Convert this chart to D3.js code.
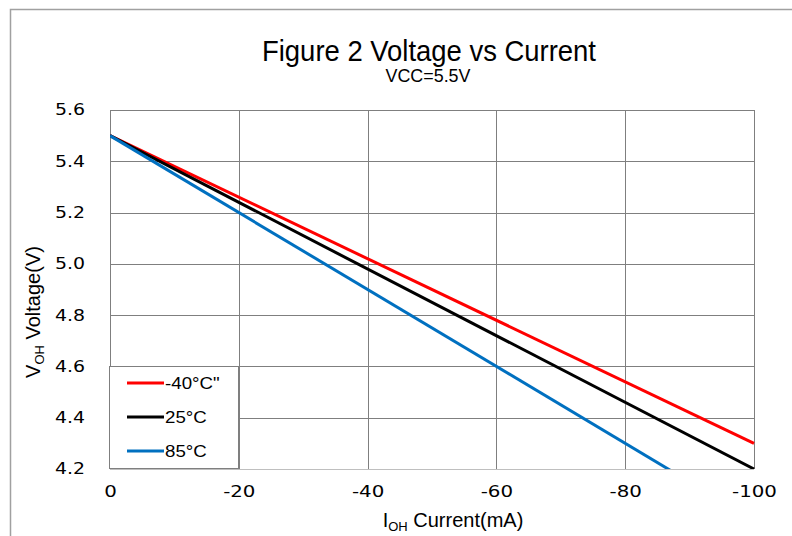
<!DOCTYPE html>
<html>
<head>
<meta charset="utf-8">
<script src="https://cdn.jsdelivr.net/npm/d3@7"></script>
<style>
  body { margin: 0; background: #fff; }
  svg { display: block; }
</style>
</head>
<body>
<svg width="792" height="536"></svg>
<script>
const width = 792, height = 536;

// chart data
const current = [0, -100];
const vMinus40 = [5.5, 4.3];
const v25 = [5.5, 4.2];
const v85 = [5.5, 4.0];
const seriesNames = ["-40°C\"", "25°C", "85°C"];
const seriesColors = ["#ff0000", "#000000", "#0070c0"];
const xTicks = [0, -20, -40, -60, -80, -100];
const yTicks = [4.2, 4.4, 4.6, 4.8, 5.0, 5.2, 5.4, 5.6];

const plot = { left: 110, right: 754, top: 110, bottom: 469 };

const svg = d3.select("svg");

// widen text a bit, the source picture is stretched horizontally
function stretch(sel, k) {
  sel.each(function() {
    const w = this.getComputedTextLength();
    d3.select(this)
      .attr("textLength", w * k)
      .attr("lengthAdjust", "spacingAndGlyphs");
  });
}

// outer frame (only top and left edges show)
svg.append("path")
  .attr("d", `M10.5,${height} V9.5 H${width}`)
  .attr("fill", "none")
  .attr("stroke", "#a0a0a0")
  .attr("stroke-width", 1.5);

const x = d3.scaleLinear().domain([0, -100]).range([plot.left, plot.right]);
const y = d3.scaleLinear().domain([4.2, 5.6]).range([plot.bottom, plot.top]);

// grid
svg.append("g")
  .selectAll("line")
  .data(yTicks)
  .enter().append("line")
  .attr("x1", plot.left).attr("x2", plot.right)
  .attr("y1", d => Math.round(y(d)) + 0.5).attr("y2", d => Math.round(y(d)) + 0.5)
  .attr("stroke", d => d === 4.2 ? "#bfbfbf" : "#7f7f7f");

svg.append("g")
  .selectAll("line")
  .data(xTicks)
  .enter().append("line")
  .attr("x1", d => Math.round(x(d)) + 0.5).attr("x2", d => Math.round(x(d)) + 0.5)
  .attr("y1", plot.top).attr("y2", plot.bottom)
  .attr("stroke", "#7f7f7f");

// axes
const yAxis = svg.append("g")
  .attr("transform", `translate(${plot.left},0)`)
  .call(d3.axisLeft(y).tickValues(yTicks).tickFormat(d3.format(".1f")).tickSize(0).tickPadding(25));
yAxis.select(".domain").remove();
yAxis.selectAll("text")
  .attr("font-family", "'DejaVu Sans', Verdana, sans-serif")
  .attr("font-size", 15.5)
  .attr("fill", "#000")
  .call(stretch, 1.22);

const xAxis = svg.append("g")
  .attr("transform", `translate(0,${plot.bottom})`)
  .call(d3.axisBottom(x).tickValues(xTicks).tickFormat(d => String(d)).tickSize(0).tickPadding(16));
xAxis.select(".domain").remove();
xAxis.selectAll("text")
  .attr("font-family", "'DejaVu Sans', Verdana, sans-serif")
  .attr("font-size", 16.5)
  .attr("fill", "#000")
  .call(stretch, 1.2);

// lines
svg.append("clipPath").attr("id", "clip")
  .append("rect")
  .attr("x", plot.left).attr("y", plot.top)
  .attr("width", plot.right - plot.left + 2)
  .attr("height", plot.bottom - plot.top);

const line = d3.line()
  .x(d => x(d[0]))
  .y(d => y(d[1]));

const series = [vMinus40, v25, v85];
svg.append("g")
  .attr("clip-path", "url(#clip)")
  .selectAll("path")
  .data(series.map(s => current.map((c, i) => [c, s[i]])))
  .enter().append("path")
  .attr("d", line)
  .attr("fill", "none")
  .attr("stroke", (d, i) => seriesColors[i])
  .attr("stroke-width", 3);

// legend
const lg = svg.append("g");
lg.append("rect")
  .attr("x", 109.5).attr("y", 366.5)
  .attr("width", 129).attr("height", 102)
  .attr("fill", "#fff")
  .attr("stroke", "#7f7f7f");

const legendRows = lg.selectAll("g.row")
  .data(seriesNames)
  .enter().append("g")
  .attr("class", "row")
  .attr("transform", (d, i) => `translate(0,${383 + i * 34})`);

legendRows.append("line")
  .attr("x1", 127).attr("x2", 164)
  .attr("stroke", (d, i) => seriesColors[i])
  .attr("stroke-width", 3);

legendRows.append("text")
  .attr("x", 165)
  .attr("dy", "0.36em")
  .attr("font-family", "'Liberation Sans', Arial, sans-serif")
  .attr("font-size", 17)
  .text(d => d)
  .call(stretch, 1.1);

// titles
svg.append("text")
  .attr("x", 429).attr("y", 61)
  .attr("text-anchor", "middle")
  .attr("font-family", "'Liberation Sans', Arial, sans-serif")
  .attr("font-size", 29)
  .attr("textLength", 334)
  .attr("lengthAdjust", "spacingAndGlyphs")
  .text("Figure 2 Voltage vs Current");

svg.append("text")
  .attr("x", 428).attr("y", 82)
  .attr("text-anchor", "middle")
  .attr("font-family", "'Liberation Sans', Arial, sans-serif")
  .attr("font-size", 18)
  .attr("textLength", 85)
  .attr("lengthAdjust", "spacingAndGlyphs")
  .text("VCC=5.5V");

const xt = svg.append("text")
  .attr("x", 453).attr("y", 527)
  .attr("text-anchor", "middle")
  .attr("font-family", "'Liberation Sans', Arial, sans-serif")
  .attr("font-size", 20);
xt.append("tspan").text("I");
xt.append("tspan").attr("font-size", 13).attr("dy", 4).text("OH");
xt.append("tspan").attr("dy", -4).text(" Current(mA)");

const yt = svg.append("text")
  .attr("transform", "translate(40,312) rotate(-90)")
  .attr("text-anchor", "middle")
  .attr("font-family", "'Liberation Sans', Arial, sans-serif")
  .attr("font-size", 20);
yt.append("tspan").text("V");
yt.append("tspan").attr("font-size", 13).attr("dy", 4).text("OH");
yt.append("tspan").attr("dy", -4).text("  Voltage(V)");
</script>
</body>
</html>
